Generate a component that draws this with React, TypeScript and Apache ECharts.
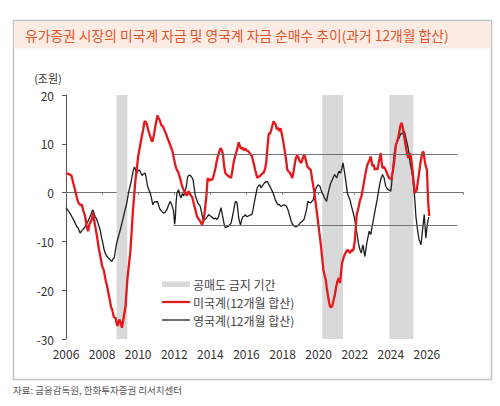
import React, { useEffect, useRef } from "react";
import * as echarts from "echarts";

const title = "유가증권 시장의 미국계 자금 및 영국계 자금 순매수 추이(과거 12개월 합산)";
const unitLabel = "(조원)";
const sourceText = "자료: 금융감독원, 한화투자증권 리서치센터";
const usName = "미국계(12개월 합산)";
const ukName = "영국계(12개월 합산)";
const banName = "공매도 금지 기간";

const xTicks = [2006, 2008, 2010, 2012, 2014, 2016, 2018, 2020, 2022, 2024, 2026];

const banPeriods = [
  [2008.8, 2009.4],
  [2020.2, 2021.35],
  [2023.92, 2025.25],
];

const bandLevels = [7.8, -6.7];
const bandRange = [2011.95, 2027.7];

const usDates = [
  2006.0, 2006.15, 2006.3, 2006.4, 2006.5, 2006.6, 2006.69, 2006.8, 2006.87, 2006.97,
  2007.06, 2007.15, 2007.22, 2007.3, 2007.43, 2007.5, 2007.6, 2007.72, 2007.82, 2007.9,
  2008.0, 2008.1, 2008.2, 2008.28, 2008.4, 2008.5, 2008.56, 2008.65, 2008.75, 2008.82,
  2008.87, 2008.95, 2009.02, 2009.1, 2009.2, 2009.3, 2009.4, 2009.48, 2009.56, 2009.63,
  2009.7, 2009.78, 2009.85, 2009.93, 2010.0, 2010.1, 2010.2, 2010.28, 2010.35, 2010.42,
  2010.48, 2010.58, 2010.67, 2010.75, 2010.8, 2010.88, 2010.95, 2011.0, 2011.07, 2011.13,
  2011.2, 2011.28, 2011.37, 2011.45, 2011.55, 2011.62, 2011.7, 2011.8, 2011.9, 2011.98,
  2012.07, 2012.15, 2012.22, 2012.33, 2012.42, 2012.52, 2012.6, 2012.7, 2012.78, 2012.89,
  2013.0, 2013.07, 2013.17, 2013.26, 2013.35, 2013.44, 2013.54, 2013.63, 2013.7, 2013.78,
  2013.85, 2013.92, 2014.0, 2014.1, 2014.2, 2014.28, 2014.37, 2014.46, 2014.56, 2014.63,
  2014.7, 2014.76, 2014.83, 2014.92, 2015.0, 2015.08, 2015.15, 2015.22, 2015.3, 2015.4,
  2015.48, 2015.57, 2015.63, 2015.7, 2015.78, 2015.86, 2015.94, 2016.02, 2016.1, 2016.2,
  2016.3, 2016.4, 2016.5, 2016.6, 2016.7, 2016.78, 2016.88, 2016.96, 2017.04, 2017.1,
  2017.17, 2017.24, 2017.3, 2017.37, 2017.44, 2017.5, 2017.56, 2017.62, 2017.68, 2017.74,
  2017.82, 2017.89, 2017.96, 2018.04, 2018.1, 2018.17, 2018.22, 2018.26, 2018.33, 2018.4,
  2018.47, 2018.54, 2018.62, 2018.72, 2018.8, 2018.88, 2018.95, 2019.04, 2019.12, 2019.2,
  2019.28, 2019.37, 2019.45, 2019.56, 2019.65, 2019.74, 2019.83, 2019.93, 2020.02, 2020.11,
  2020.2, 2020.26, 2020.33, 2020.39, 2020.45, 2020.52, 2020.58, 2020.63, 2020.7, 2020.76,
  2020.83, 2020.89, 2020.96, 2021.04, 2021.12, 2021.19, 2021.25, 2021.3, 2021.37, 2021.44,
  2021.52, 2021.59, 2021.66, 2021.74, 2021.8, 2021.87, 2021.94, 2022.0, 2022.06, 2022.11,
  2022.18, 2022.24, 2022.3, 2022.37, 2022.45, 2022.52, 2022.6, 2022.7, 2022.8, 2022.89,
  2022.98, 2023.04, 2023.11, 2023.18, 2023.26, 2023.35, 2023.44, 2023.5, 2023.54, 2023.6,
  2023.67, 2023.72, 2023.78, 2023.85, 2023.9, 2023.97, 2024.04, 2024.12, 2024.19, 2024.28,
  2024.35, 2024.41, 2024.47, 2024.52, 2024.6, 2024.65, 2024.7, 2024.76, 2024.83, 2024.9,
  2024.96, 2025.02, 2025.07, 2025.14, 2025.2, 2025.27, 2025.33, 2025.39, 2025.44, 2025.5,
  2025.57, 2025.63, 2025.7, 2025.76, 2025.81, 2025.88, 2025.94, 2026.0, 2026.04, 2026.07,
  2026.13,
];

const usValues = [
  4.0, 3.8, 3.5, 2.0, 0.6, -1.0, -2.1, -2.6, -2.4, -3.8,
  -4.9, -7.0, -7.9, -6.5, -5.5, -4.2, -6.5, -9.0, -11.5, -13.0,
  -15.0, -16.0, -18.0, -19.2, -21.5, -23.5, -24.0, -25.5, -25.7, -27.0,
  -27.3, -26.0, -26.5, -27.7, -25.5, -23.3, -17.8, -15.0, -12.4, -8.5,
  -4.2, -0.5, 2.7, 5.0, 7.4, 9.5, 11.5, 13.0, 14.6, 14.5,
  14.0, 12.5, 11.5, 10.6, 10.5, 12.0, 13.6, 14.5, 15.8, 15.3,
  14.8, 13.8, 13.6, 12.8, 12.0, 11.2, 10.5, 9.5, 8.5, 7.0,
  5.4, 4.6, 4.2, 2.8, 1.5, 0.5, -0.2, -0.6, 0.3, -0.4,
  -1.0, -2.1, -3.5, -4.9, -5.4, -5.9, -6.6, -5.6, -3.5, -0.7,
  3.0, 2.4, 2.7, 2.6, 3.7, 5.0, 6.8, 8.0, 9.1, 8.8,
  7.8, 5.5, 4.0, 3.6, 3.4, 3.2, 3.0, 4.5, 6.4, 7.8,
  8.8, 10.3, 9.6, 9.0, 9.2, 8.7, 9.0, 8.6, 8.5, 8.0,
  7.5, 6.0, 4.4, 3.0, 3.3, 3.5, 3.9, 4.1, 5.0, 6.4,
  9.5, 12.2, 12.0, 12.8, 13.8, 14.6, 14.2, 14.0, 13.0, 13.3,
  12.6, 13.2, 12.0, 10.5, 9.0, 7.4, 6.0, 4.7, 4.4, 4.1,
  3.6, 3.0, 4.5, 6.8, 7.6, 7.2, 6.4, 6.1, 7.0, 7.8,
  6.8, 5.4, 5.0, 4.7, 2.5, 0.6, -2.0, -4.9, -7.6, -10.3,
  -13.5, -15.8, -17.0, -17.8, -19.5, -21.2, -22.5, -23.3, -23.5, -23.2,
  -22.0, -21.2, -19.5, -18.2, -17.5, -18.5, -16.0, -14.4, -13.5, -12.7,
  -12.2, -11.7, -12.0, -12.4, -11.8, -12.0, -11.5, -10.0, -7.0, -4.5,
  -3.5, -2.5, -1.5, -0.8, 0.8, 2.3, 4.0, 5.7, 6.5, 7.4,
  5.4, 5.8, 4.7, 5.0, 4.7, 6.5, 8.1, 6.0, 5.0, 5.3,
  5.0, 4.6, 4.0, 3.4, 3.0, 2.9, 2.7, 4.5, 6.4, 9.8,
  10.5, 11.2, 12.5, 13.6, 14.3, 13.5, 12.6, 11.0, 9.5, 8.0,
  7.1, 7.5, 8.1, 6.5, 4.7, 2.0, -0.1, 0.2, 0.6, 2.3,
  4.1, 5.8, 7.4, 8.2, 8.4, 6.5, 5.4, 4.7, 1.0, -2.0,
  -4.8,
];

const ukDates = [
  2006.0, 2006.1, 2006.22, 2006.32, 2006.41, 2006.5, 2006.59, 2006.68, 2006.78, 2006.86,
  2006.93, 2007.02, 2007.11, 2007.2, 2007.3, 2007.38, 2007.48, 2007.55, 2007.61, 2007.68,
  2007.74, 2007.82, 2007.89, 2007.96, 2008.04, 2008.1, 2008.17, 2008.26, 2008.35, 2008.45,
  2008.54, 2008.6, 2008.67, 2008.74, 2008.81, 2008.88, 2008.96, 2009.05, 2009.15, 2009.24,
  2009.33, 2009.4, 2009.46, 2009.53, 2009.59, 2009.66, 2009.74, 2009.79, 2009.83, 2009.88,
  2009.93, 2010.0, 2010.07, 2010.15, 2010.22, 2010.26, 2010.33, 2010.39, 2010.45, 2010.52,
  2010.6, 2010.67, 2010.74, 2010.81, 2010.88, 2010.94, 2011.0, 2011.07, 2011.15, 2011.22,
  2011.3, 2011.41, 2011.5, 2011.59, 2011.68, 2011.78, 2011.87, 2011.96, 2012.02, 2012.06,
  2012.1, 2012.15, 2012.24, 2012.3, 2012.37, 2012.45, 2012.52, 2012.6, 2012.67, 2012.74,
  2012.82, 2012.89, 2012.96, 2013.04, 2013.1, 2013.17, 2013.24, 2013.3, 2013.37, 2013.44,
  2013.52, 2013.59, 2013.66, 2013.72, 2013.78, 2013.85, 2013.91, 2014.0, 2014.09, 2014.18,
  2014.28, 2014.37, 2014.46, 2014.52, 2014.59, 2014.65, 2014.7, 2014.76, 2014.83, 2014.9,
  2015.0, 2015.08, 2015.15, 2015.22, 2015.3, 2015.35, 2015.39, 2015.44, 2015.48, 2015.53,
  2015.57, 2015.62, 2015.67, 2015.74, 2015.81, 2015.88, 2015.94, 2016.02, 2016.1, 2016.2,
  2016.3, 2016.36, 2016.41, 2016.5, 2016.6, 2016.67, 2016.74, 2016.8, 2016.87, 2016.94,
  2017.0, 2017.08, 2017.15, 2017.22, 2017.3, 2017.4, 2017.48, 2017.55, 2017.6, 2017.67,
  2017.74, 2017.82, 2017.89, 2017.98, 2018.07, 2018.15, 2018.22, 2018.29, 2018.35, 2018.42,
  2018.48, 2018.55, 2018.63, 2018.72, 2018.8, 2018.9, 2018.98, 2019.08, 2019.19, 2019.26,
  2019.33, 2019.4, 2019.48, 2019.56, 2019.63, 2019.7, 2019.76, 2019.83, 2019.9, 2019.96,
  2020.07, 2020.13, 2020.2, 2020.27, 2020.33, 2020.39, 2020.44, 2020.5, 2020.57, 2020.66,
  2020.76, 2020.82, 2020.89, 2020.95, 2021.0, 2021.07, 2021.13, 2021.18, 2021.22, 2021.29,
  2021.35, 2021.4, 2021.44, 2021.52, 2021.59, 2021.66, 2021.74, 2021.8, 2021.87, 2021.94,
  2022.0, 2022.08, 2022.15, 2022.2, 2022.24, 2022.3, 2022.37, 2022.42, 2022.46, 2022.51,
  2022.56, 2022.62, 2022.67, 2022.74, 2022.8, 2022.85, 2022.89, 2022.96, 2023.04, 2023.1,
  2023.17, 2023.24, 2023.3, 2023.37, 2023.44, 2023.5, 2023.54, 2023.59, 2023.63, 2023.68,
  2023.72, 2023.78, 2023.85, 2023.92, 2024.0, 2024.05, 2024.09, 2024.14, 2024.19, 2024.26,
  2024.33, 2024.4, 2024.46, 2024.52, 2024.59, 2024.66, 2024.74, 2024.79, 2024.83, 2024.9,
  2024.96, 2025.02, 2025.07, 2025.14, 2025.2, 2025.25, 2025.3, 2025.35, 2025.39, 2025.44,
  2025.48, 2025.52, 2025.57, 2025.62, 2025.67, 2025.72, 2025.76, 2025.81, 2025.85, 2025.9,
  2025.94, 2025.99, 2026.04, 2026.1,
];

const ukValues = [
  -3.1, -3.6, -4.2, -4.9, -5.5, -6.2, -6.9, -7.3, -8.3, -7.9,
  -7.6, -7.2, -6.6, -6.0, -5.2, -4.5, -3.5, -4.2, -4.9, -5.3,
  -5.9, -6.8, -7.6, -9.0, -10.3, -11.5, -12.4, -13.0, -13.4, -13.8,
  -14.1, -13.6, -13.4, -11.8, -10.3, -9.3, -8.3, -7.0, -5.5, -4.0,
  -2.8, -1.5, -0.1, 1.0, 1.9, 3.3, 4.7, 5.2, 5.0, 4.3,
  4.0, 4.5, 4.7, 4.0, 3.5, 3.7, 3.9, 4.0, 2.8, 1.3,
  0.5, -0.1, -1.2, -2.5, -2.0, -1.8, -2.0, -1.8, -2.8, -3.5,
  -3.8, -4.2, -4.0, -3.5, -2.6, -1.8, -2.6, -3.8, -6.5, -5.2,
  -2.0, -0.1, 0.6, -0.5, -1.1, -0.2, -0.7, 0.3, 1.3, 3.2,
  3.6, 3.5, 3.2, 2.7, 1.0, -0.7, -1.4, -2.1, -2.4, -2.8,
  -4.2, -5.5, -5.6, -5.4, -5.2, -4.8, -4.5, -4.8, -5.0, -5.4,
  -5.2, -5.5, -4.9, -4.0, -3.1, -4.3, -5.2, -6.4, -7.2, -7.0,
  -6.9, -6.6, -6.2, -5.0, -3.5, -2.4, -1.8, -1.9, -2.1, -3.8,
  -5.2, -6.0, -6.6, -5.5, -4.9, -4.8, -4.5, -4.9, -4.8, -4.6,
  -4.5, -3.6, -2.5, -0.8, 1.0, 1.4, 1.6, 1.0, 1.3, 1.7,
  2.0, 2.2, 2.3, 1.8, 1.3, 0.5, -0.1, -0.9, -1.5, -2.0,
  -2.5, -2.4, -2.8, -2.7, -2.5, -2.6, -2.8, -3.4, -4.2, -5.0,
  -5.9, -6.5, -6.8, -7.0, -6.9, -6.6, -6.2, -5.9, -5.5, -4.5,
  -3.5, -1.8, -2.0, -2.1, -1.8, -1.5, -0.5, 0.6, 1.2, 1.6,
  1.3, 0.6, -0.1, -0.6, -1.1, -1.5, -1.8, -0.6, 0.6, 1.8,
  2.7, 3.2, 3.7, 3.3, 3.0, 3.8, 4.4, 4.0, 4.1, 5.0,
  6.1, 5.0, 4.1, 2.0, -0.1, -0.8, -1.5, -2.5, -3.5, -4.5,
  -5.5, -7.3, -9.0, -10.2, -11.0, -11.8, -12.4, -11.2, -10.7, -12.0,
  -13.1, -11.6, -10.3, -9.0, -7.9, -8.3, -8.6, -7.0, -5.5, -4.2,
  -2.8, -1.5, -0.1, 1.4, 2.7, 3.3, 3.7, 3.3, 3.0, 2.0,
  1.3, 0.9, 0.6, 0.5, 0.3, 2.0, 4.1, 6.0, 8.1, 9.3,
  10.2, 10.8, 11.2, 11.8, 12.2, 12.0, 12.6, 12.0, 11.2, 10.2,
  9.1, 7.6, 6.1, 4.7, 3.4, 1.6, -0.1, -2.5, -4.9, -6.4,
  -7.6, -8.6, -9.7, -10.2, -10.7, -9.0, -7.6, -6.0, -4.5, -7.0,
  -9.3, -7.6, -6.2, -5.0,
];

const FONT = "'Noto Sans CJK KR', 'Noto Sans', sans-serif";
const RED = "#e3191c";
const BLACK = "#1e1e1e";
const GRAY_BAND = "#d9d9d9";

export default function App() {
  const ref = useRef<HTMLDivElement>(null);

  useEffect(() => {
    if (!ref.current) return;
    const chart = echarts.init(ref.current, null, { renderer: "svg" });
    const usData = usDates.map((d, i) => [d, usValues[i]]);
    const ukData = ukDates.map((d, i) => [d, ukValues[i]]);

    const option: any = {
      animation: false,
      backgroundColor: "#ffffff",
      textStyle: { fontFamily: FONT },
      grid: { left: 66, right: 37, top: 95, bottom: 67, containLabel: false },
      xAxis: [
        {
          type: "value",
          min: 2006,
          max: 2028,
          interval: 2,
          position: "bottom",
          axisLine: { show: false, onZero: false },
          axisTick: { show: false },
          splitLine: { show: false },
          axisLabel: {
            color: "#333333",
            fontSize: 12,
            fontFamily: FONT,
            margin: 8,
            formatter: (v: number) => (xTicks.indexOf(v) >= 0 ? String(v) : ""),
          },
        },
        {
          type: "value",
          min: 2006,
          max: 2028,
          interval: 2,
          position: "bottom",
          axisLine: {
            show: true,
            onZero: true,
            onZeroAxisIndex: 0,
            lineStyle: { color: "#707070", width: 1.2 },
          },
          axisTick: { show: true, length: 2, lineStyle: { color: "#707070", width: 1 } },
          splitLine: { show: false },
          axisLabel: { show: false },
        },
      ],
      yAxis: {
        type: "value",
        min: -30,
        max: 20,
        interval: 10,
        axisLine: { show: true, lineStyle: { color: "#555555", width: 1 } },
        axisTick: { show: true, length: 4, lineStyle: { color: "#555555" } },
        splitLine: { show: false },
        axisLabel: { color: "#333333", fontSize: 12, fontFamily: FONT, margin: 12 },
      },
      series: [
        {
          name: banName,
          type: "line",
          data: [],
          xAxisIndex: 0,
          silent: true,
          markArea: {
            silent: true,
            itemStyle: { color: GRAY_BAND },
            data: banPeriods.map((p) => [{ xAxis: p[0] }, { xAxis: p[1] }]),
          },
          markLine: {
            silent: true,
            symbol: ["none", "none"],
            label: { show: false },
            lineStyle: { color: "#666666", width: 0.9, type: "solid" },
            data: bandLevels.map((lv) => [
              { coord: [bandRange[0], lv] },
              { coord: [bandRange[1], lv] },
            ]),
          },
          z: 1,
        },
        {
          name: ukName,
          type: "line",
          data: ukData,
          xAxisIndex: 0,
          symbol: "none",
          lineStyle: { color: BLACK, width: 1.3 },
          itemStyle: { color: BLACK },
          z: 3,
        },
        {
          name: usName,
          type: "line",
          data: usData,
          xAxisIndex: 0,
          symbol: "none",
          lineStyle: { color: RED, width: 2.3 },
          itemStyle: { color: RED },
          z: 4,
        },
      ],
      graphic: [
        {
          type: "rect",
          shape: { x: 13.5, y: 20.5, width: 478, height: 359 },
          style: { fill: "none", stroke: "#c4c4c4", lineWidth: 1.5 },
          silent: true,
          z: 0,
        },
        {
          type: "rect",
          shape: { x: 14.5, y: 21.5, width: 476, height: 27 },
          style: { fill: "#fdece3" },
          silent: true,
          z: 0,
        },
        {
          type: "text",
          x: 25,
          y: 35,
          style: {
            text: title,
            fill: "#e2552c",
            fontSize: 13.8,
            fontFamily: FONT,
            verticalAlign: "middle",
            align: "left",
          },
          silent: true,
        },
        {
          type: "text",
          x: 48,
          y: 78,
          style: {
            text: unitLabel,
            fill: "#333333",
            fontSize: 11,
            fontFamily: FONT,
            verticalAlign: "middle",
            align: "center",
          },
          silent: true,
        },
        {
          type: "rect",
          shape: { x: 162, y: 281.5, width: 28, height: 5.5 },
          style: { fill: GRAY_BAND },
          silent: true,
        },
        {
          type: "text",
          x: 193,
          y: 284,
          style: { text: banName, fill: "#444444", fontSize: 12, fontFamily: FONT, verticalAlign: "middle" },
          silent: true,
        },
        {
          type: "line",
          shape: { x1: 162, y1: 302, x2: 190, y2: 302 },
          style: { stroke: RED, lineWidth: 2.2 },
          silent: true,
        },
        {
          type: "text",
          x: 193,
          y: 302,
          style: { text: usName, fill: "#444444", fontSize: 12, fontFamily: FONT, verticalAlign: "middle" },
          silent: true,
        },
        {
          type: "line",
          shape: { x1: 162, y1: 320, x2: 190, y2: 320 },
          style: { stroke: BLACK, lineWidth: 1.3 },
          silent: true,
        },
        {
          type: "text",
          x: 193,
          y: 320,
          style: { text: ukName, fill: "#444444", fontSize: 12, fontFamily: FONT, verticalAlign: "middle" },
          silent: true,
        },
        {
          type: "text",
          x: 13,
          y: 390,
          style: { text: sourceText, fill: "#555555", fontSize: 9.5, fontFamily: FONT, verticalAlign: "middle" },
          silent: true,
        },
      ],
    };

    chart.setOption(option);
    return () => {
      chart.dispose();
    };
  }, []);

  return (
    <div
      ref={ref}
      style={{ position: "fixed", left: 0, top: 0, width: 500, height: 406, background: "#ffffff" }}
    />
  );
}
